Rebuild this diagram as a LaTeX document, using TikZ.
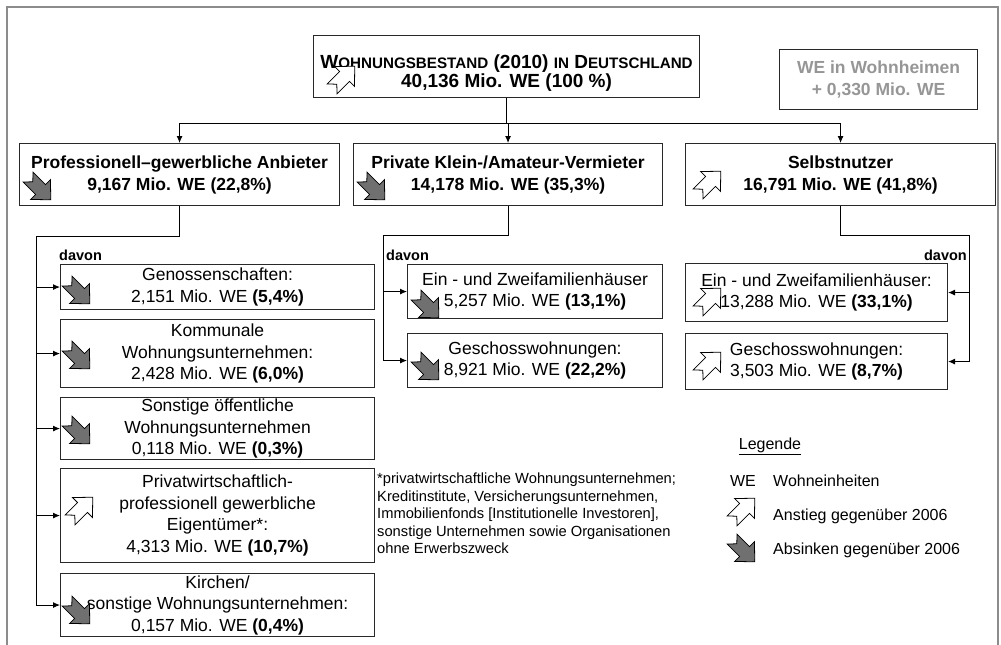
\documentclass[tikz,border=0pt]{standalone}
\usepackage{fontspec}
\setmainfont{Liberation Sans}
\usetikzlibrary{arrows.meta,calc}

\definecolor{framegray}{RGB}{140,140,140}
\definecolor{iconfill}{RGB}{112,112,112}
\definecolor{wheimgray}{RGB}{150,150,150}
\definecolor{boxline}{RGB}{40,40,40}

\newcommand\FntTop{\fontsize{19}{19.5}\selectfont\bfseries}
\newcommand\FntTopSc{\fontsize{15.2}{19.5}\selectfont}
\newcommand\FntHead{\fontsize{17.5}{22}\selectfont\bfseries}
\newcommand\FntSub{\fontsize{17.5}{21.5}\selectfont}
\newcommand\FntFoot{\fontsize{14.7}{17.5}\selectfont}
\newcommand\FntLeg{\fontsize{16}{19}\selectfont}
\newcommand\FntDavon{\fontsize{14.5}{18}\selectfont\bfseries}

\tikzset{
  box/.style={draw=boxline, line width=1.1pt, inner sep=0pt, align=center, anchor=north west},
  headbox/.style={box, font=\FntHead},
  subbox/.style={box, font=\FntSub},
  conn/.style={line width=0.9pt, black},
  arr/.style={conn, -{Latex[length=7pt,width=6pt]}},
  davonlabel/.style={font=\FntDavon, inner sep=0pt},
  legtext/.style={font=\FntLeg, inner sep=0pt, anchor=base west},
  % notched block arrow: white = rise, grey = decline
  riseicon/.pic={
    \draw[fill=white, draw=black, line width=0.8pt, line join=miter, rotate=45]
      (-12.5,-7) -- (5,-7) -- (5,-14) -- (19.5,0) -- (5,14) -- (5,7) -- (-12.5,7) -- (-6,0) -- cycle;
  },
  fallicon/.pic={
    \draw[fill=iconfill, draw=black, line width=0.8pt, line join=miter, rotate=-45]
      (-12.5,-7) -- (5,-7) -- (5,-14) -- (19.5,0) -- (5,14) -- (5,7) -- (-12.5,7) -- (-6,0) -- cycle;
  },
}

\begin{document}
\begin{tikzpicture}[x=1pt, y=-1pt]
\useasboundingbox (0,0) rectangle (1001,645);

% outer frame
\draw[framegray, line width=2pt] (7,645) -- (7,7) -- (998,7) -- (998,645);

% total stock (title set a little below the box centre)
\node[box, minimum width=386pt, minimum height=62pt] (top) at (313,35) {};
\node[font=\FntTop, align=center, inner sep=0pt] (toptext) at ([yshift=-6.5pt]top.center)
  {W{\FntTopSc OHNUNGSBESTAND} (2010) {\FntTopSc IN} D{\FntTopSc EUTSCHLAND}\\40,136 Mio. WE (100 \%)};

\node[box, font=\FntHead, text=wheimgray, minimum width=198pt, minimum height=60pt] (wh) at (779,49)
  {WE in Wohnheimen\\+ 0,330 Mio. WE};

% owner groups
\node[headbox, minimum width=320pt, minimum height=62pt] (b1) at (19,143)
  {Professionell–gewerbliche Anbieter\\9,167 Mio. WE (22,8\%)};
\node[headbox, minimum width=309pt, minimum height=62pt] (b2) at (353,143)
  {Private Klein-/Amateur-Vermieter\\14,178 Mio. WE (35,3\%)};
\node[headbox, minimum width=310pt, minimum height=62pt] (b3) at (685,143)
  {Selbstnutzer\\16,791 Mio. WE (41,8\%)};

% professional suppliers
\node[subbox, minimum width=314pt, minimum height=45pt] (s1) at (60,264)
  {Genossenschaften:\\2,151 Mio. WE \textbf{(5,4\%)}};
\node[subbox, minimum width=314pt, minimum height=68pt] (s2) at (60,319)
  {Kommunale\\Wohnungsunternehmen:\\2,428 Mio. WE \textbf{(6,0\%)}};
\node[subbox, minimum width=314pt, minimum height=62pt] (s3) at (60,397)
  {Sonstige öffentliche\\Wohnungsunternehmen\\0,118 Mio. WE \textbf{(0,3\%)}};
\node[subbox, minimum width=314pt, minimum height=94pt] (s4) at (60,468)
  {Privatwirtschaftlich-\\professionell gewerbliche\\Eigentümer*:\\4,313 Mio. WE \textbf{(10,7\%)}};
\node[subbox, minimum width=314pt, minimum height=63pt] (s5) at (60,573)
  {Kirchen/\\sonstige Wohnungsunternehmen:\\0,157 Mio. WE \textbf{(0,4\%)}};

% private landlords
\node[subbox, minimum width=255pt, minimum height=54pt] (m1) at (407,264)
  {Ein - und Zweifamilienhäuser\\5,257 Mio. WE \textbf{(13,1\%)}};
\node[subbox, minimum width=255pt, minimum height=54pt] (m2) at (407,333)
  {Geschosswohnungen:\\8,921 Mio. WE \textbf{(22,2\%)}};

% owner-occupiers
\node[subbox, minimum width=262pt, minimum height=58pt] (r1) at (685,263)
  {Ein - und Zweifamilienhäuser:\\13,288 Mio. WE \textbf{(33,1\%)}};
\node[subbox, minimum width=262pt, minimum height=56pt] (r2) at (685,333)
  {Geschosswohnungen:\\3,503 Mio. WE \textbf{(8,7\%)}};

% connectors from the total
\coordinate (tbus) at (507,123);
\draw[conn] (top.south) -- (top.south |- tbus);
\draw[conn] (b1.north |- tbus) -- (b3.north |- tbus);
\draw[arr] (b1.north |- tbus) -- (b1.north);
\draw[arr] (b2.north |- tbus) -- (b2.north);
\draw[arr] (b3.north |- tbus) -- (b3.north);

% left branch
\coordinate (lbus) at (36,236);
\draw[conn] (b1.south) |- (lbus) -- (lbus |- s5.west);
\foreach \s in {s1,s2,s3,s4,s5}
  \draw[arr] (lbus |- \s.west) -- (\s.west);

% middle branch
\coordinate (mbus) at (383,235);
\draw[conn] (b2.south) |- (mbus) -- (mbus |- m2.west);
\foreach \s in {m1,m2}
  \draw[arr] (mbus |- \s.west) -- (\s.west);

% right branch
\coordinate (rbus) at (969,235);
\draw[conn] (b3.south) |- (rbus) -- (rbus |- r2.east);
\foreach \s in {r1,r2}
  \draw[arr] (rbus |- \s.east) -- (\s.east);

\node[davonlabel, anchor=west] (davL) at (59,255) {davon};
\node[davonlabel, anchor=west] (davM) at (386,255) {davon};
\node[davonlabel, anchor=east] (davR) at (967,255) {davon};

% trend icons
\pic at (341,80) {riseicon};
\pic at (37,186) {fallicon};
\pic at (371,186) {fallicon};
\pic at (707,185) {riseicon};
\pic at (76,290) {fallicon};
\pic at (76,355) {fallicon};
\pic at (76,430) {fallicon};
\pic at (79,511) {riseicon};
\pic at (76,610) {fallicon};
\pic at (425,304) {fallicon};
\pic at (425,366) {fallicon};
\pic at (707,302) {riseicon};
\pic at (707,366) {riseicon};

% footnote
\node[font=\FntFoot, align=left, anchor=north west, inner sep=0pt] (foot) at (377,473)
  {*privatwirtschaftliche Wohnungsunternehmen;\\Kreditinstitute, Versicherungsunternehmen,\\Immobilienfonds [Institutionelle Investoren],\\sonstige Unternehmen sowie Organisationen\\ohne Erwerbszweck};

% legend
\node[font=\FntLeg, inner sep=0pt, anchor=base] (legtitle) at (770,449) {\underline{Legende}};
\node[font=\FntLeg, inner sep=0pt, anchor=base] (legwe) at (743,486) {WE};
\node[legtext] (legwetxt) at (773,486) {Wohneinheiten};
\pic at (741,512) {riseicon};
\node[legtext] (legrise) at (773,520) {Anstieg gegenüber 2006};
\pic at (741,548) {fallicon};
\node[legtext] (legfall) at (773,554) {Absinken gegenüber 2006};
\end{tikzpicture}
\end{document}
